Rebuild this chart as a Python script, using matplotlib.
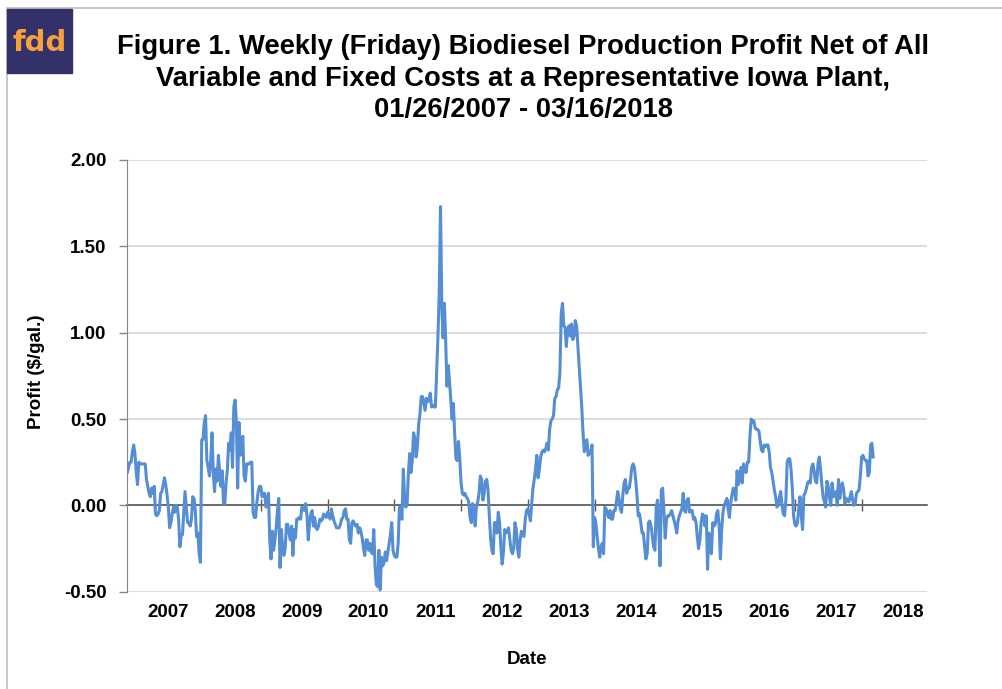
import matplotlib
matplotlib.use("Agg")
from matplotlib import pyplot as plt
from matplotlib.patches import Rectangle
from matplotlib.lines import Line2D
import pandas as pd

plt.rcParams['font.family'] = ['Liberation Sans', 'DejaVu Sans']

# Weekly (Friday) profit in $/gal., 01/26/2007 onwards
profit_2007_08 = [
    0.19, 0.22, 0.25, 0.25, 0.31, 0.35, 0.30, 0.19, 0.12, 0.25,
    0.24, 0.24, 0.24, 0.24, 0.24, 0.15, 0.11, 0.07, 0.05, 0.10,
    0.07, 0.11, -0.05, -0.06, -0.05, -0.03, 0.07, 0.08, 0.12, 0.16,
    0.12, 0.06, -0.01, -0.13, -0.10, -0.05, -0.01, -0.04, 0.00, -0.01,
    -0.08, -0.24, -0.17, -0.17, -0.04, 0.08, -0.01, -0.10, -0.10, -0.12,
    -0.08, 0.05, 0.04, -0.03, -0.18, -0.16, -0.28, -0.33, 0.38, 0.38,
    0.48, 0.52, 0.26, 0.22, 0.17, 0.26, 0.42, 0.19, 0.08, 0.21,
    0.14, 0.29, 0.19, 0.11, 0.20, 0.01, 0.01, 0.13, 0.21, 0.36,
    0.32, 0.42, 0.22, 0.57, 0.61, 0.48, 0.10, 0.48, 0.29, 0.34,
    0.40, 0.17, 0.14, 0.24, 0.24, 0.24, 0.25, 0.25, -0.04, -0.07,
    -0.07, 0.02, 0.08, 0.11,
]
profit_2009_10 = [
    0.11, 0.05, 0.07, 0.07, -0.01, 0.03, 0.07, -0.20, -0.31, -0.15,
    -0.26, -0.20, -0.13, -0.03, 0.04, -0.36, -0.14, -0.24, -0.29, -0.25,
    -0.11, -0.11, -0.16, -0.20, -0.12, -0.29, -0.14, -0.19, -0.08, -0.08,
    -0.07, -0.08, -0.01, -0.02, -0.03, 0.01, -0.06, -0.20, -0.10, -0.05,
    -0.03, -0.12, -0.07, -0.13, -0.14, -0.12, -0.08, -0.09, -0.08, -0.05,
    -0.06, -0.07, -0.04, -0.06, -0.08, -0.02, -0.06, -0.09, -0.11, -0.13,
    -0.13, -0.13, -0.11, -0.08, -0.07, -0.03, -0.02, -0.08, -0.08, -0.20,
    -0.22, -0.10, -0.09, -0.11, -0.12, -0.11, -0.16, -0.13, -0.15, -0.19,
    -0.25, -0.29, -0.20, -0.20, -0.26, -0.22, -0.27, -0.28, -0.14, -0.35,
    -0.46, -0.47, -0.26, -0.49, -0.30, -0.35, -0.33, -0.27, -0.32, -0.27,
    -0.22, -0.17, -0.10, -0.26, -0.29, -0.30, -0.30, -0.22, -0.01, -0.06,
    -0.08, 0.21, 0.05, -0.01, 0.01, 0.19, 0.30,
]
profit_2011_12 = [
    0.19, 0.26, 0.42, 0.39, 0.28, 0.34, 0.47, 0.53, 0.63, 0.63,
    0.59, 0.55, 0.62, 0.60, 0.61, 0.65, 0.57, 0.58, 0.57, 0.57,
    0.77, 0.98, 1.23, 1.73, 1.15, 0.97, 1.17, 0.96, 0.69, 0.81,
    0.72, 0.61, 0.50, 0.59, 0.42, 0.27, 0.26, 0.37, 0.27, 0.13,
    0.07, 0.06, 0.07, 0.05, 0.04, 0.02, -0.07, -0.10, 0.01, -0.04,
    -0.12, 0.00, 0.02, 0.07, 0.17, 0.15, 0.03, 0.07, 0.14, 0.15,
    0.09, -0.06, -0.19, -0.26, -0.28, -0.10, -0.10, -0.16, -0.04, -0.10,
    -0.24, -0.34, -0.27, -0.14, -0.16, -0.15, -0.13, -0.20, -0.26, -0.28,
    -0.25, -0.10, -0.14, -0.25, -0.30, -0.20, -0.15, -0.17, -0.18, -0.08,
    -0.03, -0.02, -0.05, -0.09, 0.01, 0.10, 0.15, 0.21, 0.29, 0.16,
    0.21, 0.28, 0.31, 0.32, 0.31, 0.33, 0.36, 0.32, 0.44, 0.49,
    0.50, 0.52, 0.62, 0.63, 0.67, 0.68,
]
profit_2013_15 = [
    0.77, 1.11, 1.17, 1.04, 1.03, 0.92, 1.02, 1.04, 0.98, 1.05,
    0.96, 0.98, 1.07, 1.04, 0.92, 0.81, 0.69, 0.57, 0.42, 0.31,
    0.36, 0.38, 0.29, 0.30, 0.31, 0.35, -0.24, -0.07, -0.10, -0.18,
    -0.25, -0.30, -0.24, -0.22, -0.28, -0.01, -0.02, -0.05, -0.07, -0.03,
    -0.08, -0.08, -0.03, -0.03, 0.02, 0.08, 0.04, -0.02, -0.04, 0.06,
    0.13, 0.15, 0.07, 0.10, 0.10, 0.15, 0.22, 0.24, 0.22, 0.15,
    0.06, -0.06, -0.05, -0.10, -0.16, -0.16, -0.24, -0.31, -0.28, -0.10,
    -0.09, -0.12, -0.18, -0.24, -0.26, -0.01, 0.03, -0.14, -0.35, 0.09,
    0.10, -0.03, -0.19, -0.08, -0.06, -0.06, -0.05, -0.03, -0.06, -0.09,
    -0.12, -0.16, -0.09, -0.06, -0.04, -0.02, 0.07, -0.03, -0.04, 0.03,
    0.04, -0.04, -0.03, -0.03, -0.08, -0.07, -0.10, -0.18, -0.25, -0.20,
    -0.10, -0.05, -0.06, -0.12, -0.06, -0.37, -0.16,
]
profit_2015_17 = [
    -0.20, -0.28, -0.10, -0.12, -0.11, -0.05, -0.03, -0.12, -0.31, -0.14,
    -0.04, 0.00, 0.02, 0.04, -0.02, -0.07, 0.01, 0.06, 0.10, 0.09,
    0.03, 0.20, 0.12, 0.17, 0.22, 0.13, 0.24, 0.21, 0.19, 0.25,
    0.25, 0.40, 0.50, 0.48, 0.49, 0.45, 0.44, 0.44, 0.43, 0.37,
    0.32, 0.31, 0.35, 0.34, 0.35, 0.35, 0.31, 0.22, 0.19, 0.14,
    0.09, 0.05, -0.01, 0.00, 0.05, 0.08, 0.00, -0.05, -0.06, 0.03,
    0.25, 0.27, 0.27, 0.21, 0.10, -0.06, -0.11, -0.12, -0.10, -0.02,
    0.05, -0.06, -0.14, 0.06, 0.07, 0.10, 0.13, 0.14, 0.13, 0.22,
    0.24, 0.20, 0.14, 0.13, 0.24, 0.28, 0.21, 0.12, 0.05, 0.02,
    -0.01, 0.14, 0.11, 0.04, 0.00, 0.13, 0.05, 0.07, 0.08, 0.00,
    0.15, 0.04, 0.10, 0.13, 0.09, 0.01, 0.04, 0.03, 0.02, 0.05,
    0.08, 0.03, 0.00, 0.01, 0.07, 0.08, 0.09,
]
profit_2018 = [0.17, 0.28, 0.29, 0.27, 0.26, 0.26, 0.17, 0.19, 0.35, 0.36, 0.28]

profit = (profit_2007_08 + profit_2009_10 + profit_2011_12
          + profit_2013_15 + profit_2015_17 + profit_2018)

year_labels = ['2007', '2008', '2009', '2010', '2011', '2012',
               '2013', '2014', '2015', '2016', '2017', '2018']
y_ticks = [-0.50, 0.00, 0.50, 1.00, 1.50, 2.00]

start = pd.Timestamp('2007-01-26')
dates = pd.date_range(start, periods=len(profit), freq='7D')

fig = plt.figure(figsize=(10.02, 6.89), dpi=100)
ax = fig.add_axes([0.127, 0.1412, 0.798, 0.6266])

ax.plot(dates, profit, color='#558ed5', linewidth=2.2, solid_joinstyle='round')

ax.set_xlim(start, start + pd.Timedelta(weeks=622.8))
ax.set_ylim(-0.5, 2.0)

# y axis
ax.set_yticks(y_ticks)
ax.set_yticklabels(['%.2f' % v for v in y_ticks], fontsize=13.5, fontweight='bold')
ax.tick_params(axis='y', direction='out', length=6, width=1, color='#868686', pad=9)
ax.yaxis.grid(True, color='#d9d9d9', linewidth=1.3)
ax.set_axisbelow(True)

# x axis line crosses at zero, a tick every 52 weeks
for s in ['top', 'right']:
    ax.spines[s].set_visible(False)
ax.spines['left'].set_color('#868686')
ax.spines['bottom'].set_position(('data', 0))
ax.spines['bottom'].set_color('#595959')
ax.spines['bottom'].set_linewidth(1.2)
ax.spines['bottom'].set_zorder(1.5)
ax.set_xticks([start + pd.Timedelta(weeks=52 * n) for n in range(1, 12)])
ax.tick_params(axis='x', direction='inout', length=9, width=1, color='#595959',
               labelbottom=False)

for n, lab in enumerate(year_labels):
    ax.text(start + pd.Timedelta(weeks=32 + 52 * n), -0.047, lab,
            transform=ax.get_xaxis_transform(), ha='center', va='center',
            fontsize=13.5, fontweight='bold')

# titles and axis names
title_lines = ['Figure 1. Weekly (Friday) Biodiesel Production Profit Net of All',
               'Variable and Fixed Costs at a Representative Iowa Plant,',
               '01/26/2007 - 03/16/2018']
for line, ypx in zip(title_lines, [47, 79, 110]):
    fig.text(523 / 1002, 1 - ypx / 689, line, ha='center', va='center',
             fontsize=19.7, fontweight='bold')

fig.text(36.5 / 1002, 1 - 372 / 689, 'Profit ($/gal.)', rotation=90,
         ha='center', va='center', fontsize=13.5, fontweight='bold')
fig.text(527 / 1002, 1 - 660 / 689, 'Date', ha='center', va='center',
         fontsize=13.5, fontweight='bold')

# chart border and logo
fig.add_artist(Line2D([7 / 1002, 1], [1 - 8 / 689, 1 - 8 / 689],
                      transform=fig.transFigure, color='#bfbfbf', linewidth=1.2))
fig.add_artist(Line2D([7 / 1002, 7 / 1002], [0, 1 - 8 / 689],
                      transform=fig.transFigure, color='#bfbfbf', linewidth=1.2))
fig.add_artist(Rectangle((7 / 1002, 1 - 73 / 689), 65 / 1002, 64 / 689,
                         transform=fig.transFigure, color='#34306a', zorder=3))
fig.text(40 / 1002, 1 - 43 / 689, 'fdd', ha='center', va='center',
         fontsize=21, fontweight='bold', color='#f6a13a', family='DejaVu Sans', zorder=4)

fig.savefig('out.png', dpi=100)
